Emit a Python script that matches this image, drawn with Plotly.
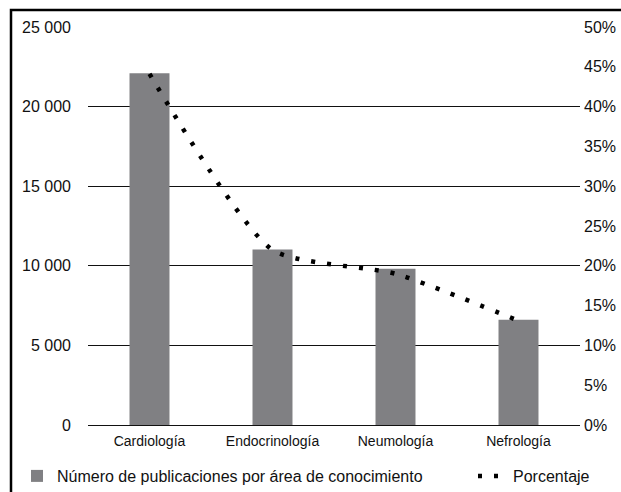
import plotly.graph_objects as go

categories = ["Cardiología", "Endocrinología", "Neumología", "Nefrología"]
publicaciones = [22100, 11020, 9820, 6610]
porcentaje = [0.441, 0.220, 0.190, 0.131]

W, H = 621, 492
L, R, T, B = 88, 41, 27, 67
pw, ph = W - L - R, H - T - B

fig = go.Figure()
fig.add_trace(go.Bar(
    x=categories, y=publicaciones,
    name="Número de publicaciones por área de conocimiento",
    marker=dict(color="#808083", line=dict(width=0)),
    width=0.325, legend="legend",
))
fig.add_trace(go.Scatter(
    x=categories, y=porcentaje, yaxis="y2", mode="lines",
    name="Porcentaje", legend="legend2",
    line=dict(color="black", width=4.5, dash="4px,12px", shape="spline", smoothing=0.6),
))

leg_y = -(476 - (H - B)) / ph
fig.update_layout(
    width=W, height=H,
    margin=dict(l=L, r=R, t=T, b=B, autoexpand=False),
    paper_bgcolor="white", plot_bgcolor="white",
    separators=", ",
    font=dict(family="Liberation Sans, Arial, sans-serif", size=16, color="#111111"),
    showlegend=True,
    legend=dict(
        orientation="h", x=(17 - L) / pw, xanchor="left",
        y=leg_y, yanchor="middle", font=dict(size=16),
        bgcolor="rgba(0,0,0,0)",
    ),
    legend2=dict(
        orientation="h", x=(473 - L) / pw, xanchor="left",
        y=leg_y, yanchor="middle", font=dict(size=16),
        bgcolor="rgba(0,0,0,0)",
    ),
    xaxis=dict(
        showgrid=False, showline=False, zeroline=False,
        tickfont=dict(size=14), ticks="", ticklabelstandoff=6,
    ),
    yaxis=dict(
        range=[0, 25000], dtick=5000, tickformat=",d",
        showgrid=True, gridcolor="#111111", gridwidth=1,
        zeroline=True, zerolinecolor="#111111", zerolinewidth=1,
        showline=False, ticks="",
        ticklabelstandoff=16, tickfont=dict(size=16),
    ),
    yaxis2=dict(
        overlaying="y", side="right", range=[0, 0.5], dtick=0.05,
        tickformat=".0%", showgrid=False, zeroline=False, showline=False,
        ticks="", ticklabelstandoff=3, tickfont=dict(size=16),
    ),
    shapes=[dict(
        type="rect", xref="paper", yref="paper",
        x0=(11 - L) / pw, x1=(630 - L) / pw,
        y0=-(500 - (H - B)) / ph, y1=1 + (T - 10) / ph,
        line=dict(color="black", width=2.5), layer="above",
    )],
)

fig.write_html(
    "out.html",
    config={"displayModeBar": False},
    post_script="document.body.style.margin='0px';document.body.style.overflow='hidden';",
)
